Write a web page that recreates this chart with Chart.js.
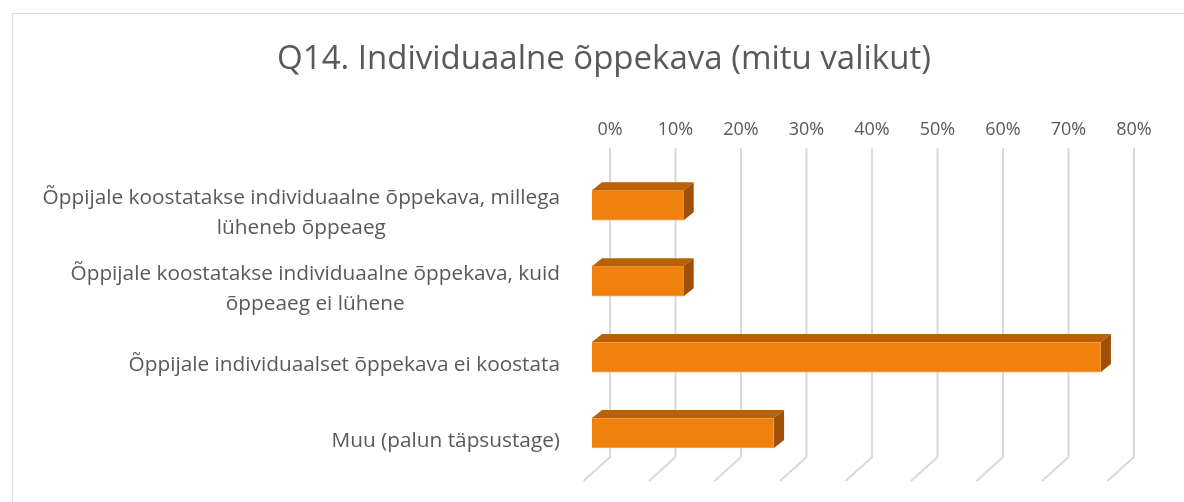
<!DOCTYPE html>
<html>
<head>
<meta charset="utf-8">
<script src="https://cdn.jsdelivr.net/npm/chart.js@4"></script>
<style>
  body { margin: 0; background: #fff; overflow: hidden; }
  #frame {
    position: absolute; left: 12px; top: 13px; width: 1200px; height: 500px;
    border-left: 1px solid #d9d9d9; border-top: 1px solid #d9d9d9;
  }
</style>
</head>
<body>
<div id="frame"><canvas id="chart1" width="1182" height="489"></canvas></div>
<script>
const categories = [
  ["Õppijale koostatakse individuaalne õppekava, millega", "lüheneb õppeaeg"],
  ["Õppijale koostatakse individuaalne õppekava, kuid", "õppeaeg ei lühene"],
  ["Õppijale individuaalset õppekava ei koostata"],
  ["Muu (palun täpsustage)"],
];
const values = [14, 14, 77.7, 27.8];
const tickValues = [0, 10, 20, 30, 40, 50, 60, 70, 80];

const textColor = "#595959";
const fontName = "'Open Sans'";
const depthX = 10, depthY = 8;   // bar depth
const wallX = 18;                // back wall offset from bar front

// back wall grid + floor lines + bar side faces
const fake3d = {
  id: "fake3d",
  beforeDatasetsDraw(chart) {
    const ctx = chart.ctx;
    const xs = chart.scales.x;
    const top = chart.chartArea.top - 19;
    const bottom = chart.chartArea.bottom - 14;
    ctx.save();
    ctx.strokeStyle = "#d9d9d9";
    ctx.lineWidth = 2;
    tickValues.forEach(function (v) {
      const px = xs.getPixelForValue(v) + wallX;
      ctx.beginPath();
      ctx.moveTo(px, top);
      ctx.lineTo(px, bottom);
      ctx.lineTo(px - 26.5, bottom + 24);
      ctx.stroke();
    });
    ctx.restore();
  },
  afterDatasetsDraw(chart) {
    const ctx = chart.ctx;
    const meta = chart.getDatasetMeta(0);
    ctx.save();
    meta.data.forEach(function (bar) {
      const t = bar.y - bar.height / 2;
      const b = bar.y + bar.height / 2;
      ctx.fillStyle = "#ba6005";
      ctx.beginPath();
      ctx.moveTo(bar.base, t);
      ctx.lineTo(bar.x, t);
      ctx.lineTo(bar.x + depthX, t - depthY);
      ctx.lineTo(bar.base + depthX, t - depthY);
      ctx.closePath();
      ctx.fill();
      ctx.fillStyle = "#9f5004";
      ctx.beginPath();
      ctx.moveTo(bar.x, t);
      ctx.lineTo(bar.x + depthX, t - depthY);
      ctx.lineTo(bar.x + depthX, b - depthY);
      ctx.lineTo(bar.x, b);
      ctx.closePath();
      ctx.fill();
    });
    // category labels, block right-aligned, lines centred
    const ys = chart.scales.y;
    ctx.font = "20.8px " + fontName;
    ctx.fillStyle = textColor;
    ctx.textBaseline = "middle";
    ctx.textAlign = "center";
    const right = chart.chartArea.left - 32;
    categories.forEach(function (lines, i) {
      const w = Math.max.apply(null, lines.map(function (s) { return ctx.measureText(s).width; }));
      const cx = right - w / 2;
      const cy = ys.getPixelForValue(i) + 8;
      const lh = 30;
      lines.forEach(function (s, j) {
        ctx.fillText(s, cx, cy + (j - (lines.length - 1) / 2) * lh);
      });
    });
    ctx.restore();
  },
};

const ctx = document.getElementById("chart1").getContext("2d");
const myChart = new Chart(ctx, {
  type: "bar",
  data: {
    labels: categories,
    datasets: [
      {
        data: values,
        backgroundColor: "#f0810c",
        borderColor: "#f6a55a",
        borderWidth: 1,
        barThickness: 30,
      },
    ],
  },
  plugins: [fake3d],
  options: {
    indexAxis: "y",
    responsive: false,
    animation: false,
    layout: { padding: { left: 79, right: 79, bottom: 32 } },
    plugins: {
      legend: { display: false },
      tooltip: { enabled: false },
      title: {
        display: true,
        text: "Q14. Individuaalne õppekava (mitu valikut)",
        color: textColor,
        font: { family: "Open Sans", size: 33, weight: "normal" },
        padding: { top: 26, bottom: 12 },
      },
    },
    scales: {
      x: {
        position: "top",
        min: 0,
        max: 80,
        grid: { display: false, drawTicks: false },
        border: { display: false },
        ticks: {
          stepSize: 10,
          labelOffset: wallX,
          padding: 27,
          color: textColor,
          font: { family: "Open Sans", size: 18 },
          callback: function (v) { return v + "%"; },
        },
      },
      y: {
        grid: { display: false, drawTicks: false },
        border: { display: false },
        ticks: { display: false },
        afterFit: function (scale) { scale.width = 500; },
      },
    },
  },
});
</script>
</body>
</html>
